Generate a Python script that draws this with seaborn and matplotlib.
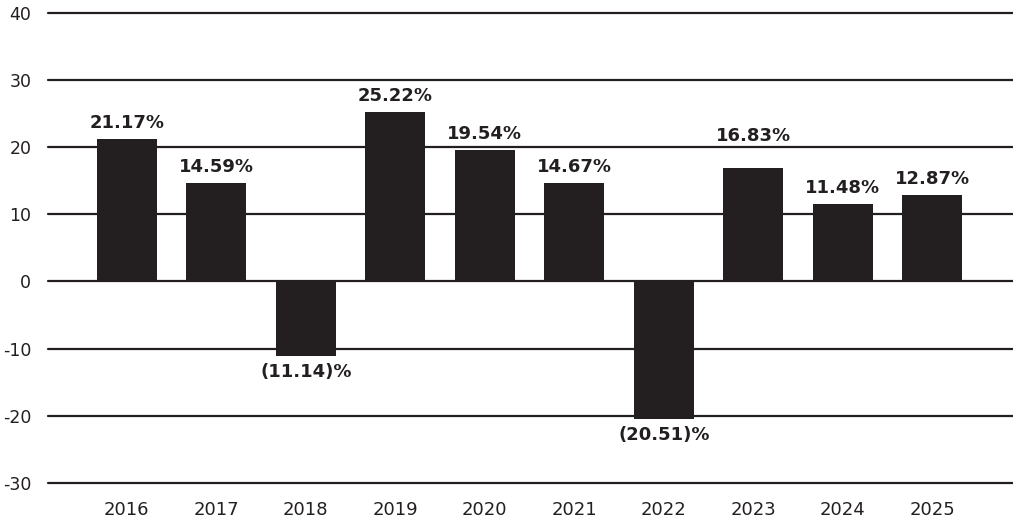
import matplotlib
matplotlib.use('Agg')
import matplotlib.pyplot as plt
import seaborn as sns
import pandas as pd

# chart values
years = ['2016', '2017', '2018', '2019', '2020', '2021', '2022', '2023', '2024', '2025']
returns = [21.17, 14.59, -11.14, 25.22, 19.54, 14.67, -20.51, 16.83, 11.48, 12.87]
y_ticks = [-30, -20, -10, 0, 10, 20, 30, 40]

df = pd.DataFrame({'year': years, 'ret': returns})

sns.set_style('white')
plt.rcParams['font.family'] = ['DejaVu Sans']
plt.rcParams['axes.unicode_minus'] = False

dark = '#231f20'

fig = plt.figure(figsize=(10.13, 5.22), dpi=100)
ax = fig.add_axes([0.0474, 0.0747, 0.9526, 0.9012])

# gridlines behind bars
for t in y_ticks:
    ax.axhline(t, color=dark, lw=1.6, zorder=0, clip_on=False)

sns.barplot(data=df, x='year', y='ret', color=dark, saturation=1, width=0.67,
            errorbar=None, ax=ax, zorder=2, edgecolor=dark, linewidth=0)

ax.set_ylim(-30, 40)
ax.set_xlim(-0.88, 9.9)
ax.set_yticks(y_ticks)
ax.set_yticklabels([str(t) for t in y_ticks])
ax.set_xlabel('')
ax.set_ylabel('')
for s in ax.spines.values():
    s.set_visible(False)
ax.tick_params(axis='both', length=0, labelsize=13, colors=dark)
ax.tick_params(axis='y', labelsize=12.5, pad=12)
ax.tick_params(axis='x', pad=13)

# value labels
for i, v in enumerate(returns):
    if v >= 0:
        txt = f'{v:.2f}%'
        off = 17 if years[i] == '2023' else 5
        ax.annotate(txt, (i, v), xytext=(0, off), textcoords='offset points',
                    ha='center', va='bottom', fontsize=13, fontweight='bold', color=dark)
    else:
        txt = f'({abs(v):.2f})%'
        ax.annotate(txt, (i, v), xytext=(0, -5), textcoords='offset points',
                    ha='center', va='top', fontsize=13, fontweight='bold', color=dark)

fig.savefig('out.png', dpi=100)
